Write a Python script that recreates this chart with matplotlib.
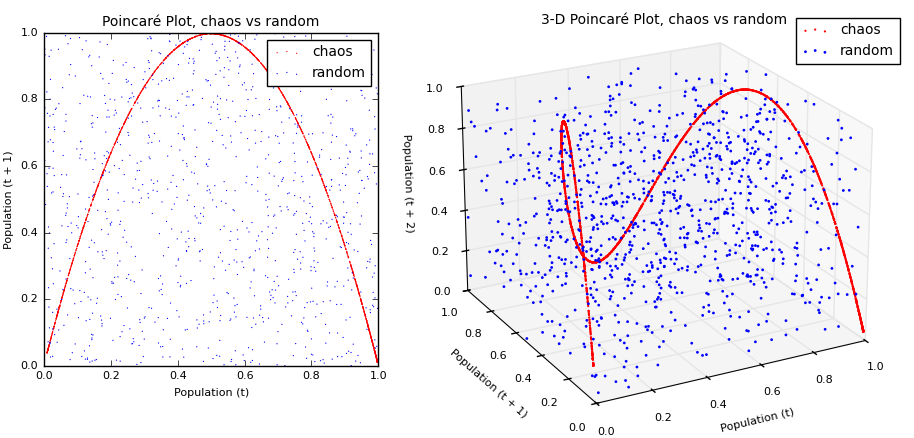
import numpy as np
import matplotlib
matplotlib.use("Agg")
import matplotlib.pyplot as plt
from mpl_toolkits.mplot3d import Axes3D

plt.style.use('classic')
plt.rcParams['figure.facecolor'] = 'white'

# chaos series: logistic map (data-generating process)
growth_rate = 3.99
start_pop = 0.5
n_chaos = 2000
n_rand = 1000
pops = [start_pop]
for _ in range(n_chaos + 2):
    pops.append(growth_rate * pops[-1] * (1 - pops[-1]))
pops = np.array(pops[1:])
chaos_x = pops[:-2]
chaos_y = pops[1:-1]
chaos_z = pops[2:]

rng = np.random.RandomState(1)
rand = rng.random_sample(n_rand + 2)
rand_x = rand[:-2]
rand_y = rand[1:-1]
rand_z = rand[2:]

fig = plt.figure(figsize=(9.14, 4.38), dpi=100)
ax = fig.add_axes([0.048, 0.165, 0.366, 0.76])
ax.scatter(chaos_x, chaos_y, color='r', s=0.8, edgecolors='none', label='chaos')
ax.scatter(rand_x, rand_y, color='b', s=0.8, edgecolors='none', label='random')
ax.set_xlim(0, 1); ax.set_ylim(0, 1)
ax.set_title('Poincaré Plot, chaos vs random', fontsize=10)
ax.set_xlabel('Population (t)', fontsize=8)
ax.set_ylabel('Population (t + 1)', fontsize=8)
ax.tick_params(labelsize=8)
ax.legend(loc='upper right', fontsize=10, markerscale=1, scatterpoints=3)

ax3 = fig.add_axes([0.405, -0.03, 0.625, 1.06], projection='3d')
ax3.scatter(chaos_x, chaos_y, chaos_z, color='r', s=2.5, edgecolors='none', label='chaos', depthshade=False)
ax3.scatter(rand_x, rand_y, rand_z, color='b', s=4, edgecolors='none', label='random', depthshade=False)
ax3.set_xlim(0, 1); ax3.set_ylim(0, 1); ax3.set_zlim(0, 1)
ax3.view_init(elev=22, azim=-118)
ax3.set_xlabel('Population (t)', fontsize=8)
ax3.set_ylabel('Population (t + 1)', fontsize=8)
ax3.set_zlabel('Population (t + 2)', fontsize=8)
ax3.tick_params(labelsize=8)
fig.text(0.727, 0.955, '3-D Poincaré Plot, chaos vs random', fontsize=10, ha='center', va='center')
fig.legend(*ax3.get_legend_handles_labels(), loc='upper right', fontsize=10,
           scatterpoints=3, bbox_to_anchor=(0.992, 0.975))
fig.savefig('out.png', dpi=100, facecolor='white')
